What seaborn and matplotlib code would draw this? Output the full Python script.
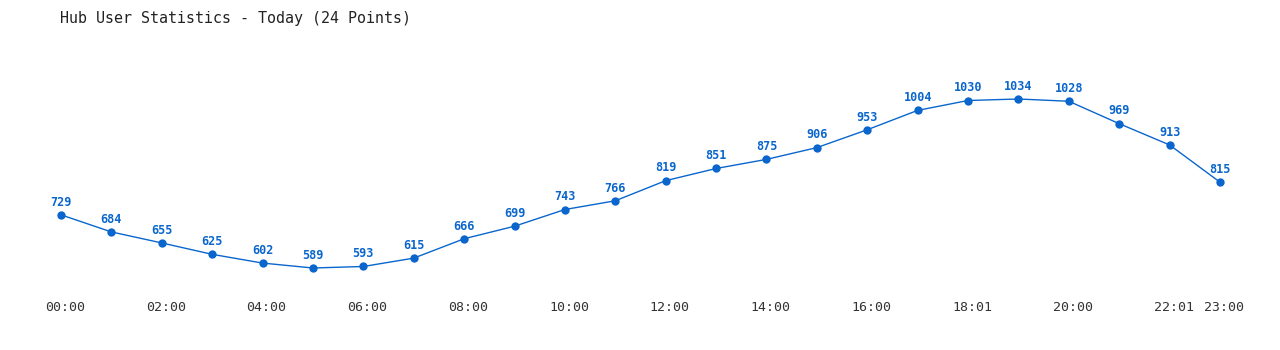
import matplotlib
matplotlib.use("Agg")
import matplotlib.pyplot as plt
import matplotlib.transforms as mtransforms
import seaborn as sns
import pandas as pd

times = ["00:00", "01:00", "02:00", "03:00", "04:00", "05:00", "06:00", "07:00",
         "08:00", "09:00", "10:00", "11:00", "12:00", "13:00", "14:00", "15:00",
         "16:00", "17:00", "18:01", "19:00", "20:00", "21:00", "22:01", "23:00"]
users = [729, 684, 655, 625, 602, 589, 593, 615, 666, 699, 743, 766,
         819, 851, 875, 906, 953, 1004, 1030, 1034, 1028, 969, 913, 815]
tick_idx = [0, 2, 4, 6, 8, 10, 12, 14, 16, 18, 20, 22, 23]
title = "Hub User Statistics - Today (24 Points)"

sns.set_style("white")
plt.rcParams['font.family'] = ['DejaVu Sans Mono', 'DejaVu Sans']

df = pd.DataFrame({"idx": range(len(users)), "time": times, "users": users})

fig = plt.figure(figsize=(12.8, 3.5), dpi=100)
ax = fig.add_axes([40 / 1280, 60 / 350, 1200 / 1280, 250 / 350])
color = "#0a66cc"
sns.lineplot(data=df, x="idx", y="users", ax=ax, color=color, linewidth=1.0,
             marker="o", markersize=6, markeredgewidth=0)

for i, v in zip(df["idx"], df["users"]):
    ax.annotate(str(v), (i, v), xytext=(0, 4.5), textcoords="offset points",
                ha="center", va="bottom", fontsize=8.5, fontweight="bold",
                color=color)

ax.set_xlim(-0.4167, 23.397)
ax.set_ylim(531.1, 1189.3)
ax.set_xticks(tick_idx)
ax.set_xticklabels([times[i] for i in tick_idx], fontsize=9.5, color="#333333")
ax.tick_params(axis="x", length=0, pad=8)
shift = mtransforms.ScaledTranslation(4 / 100, 0, fig.dpi_scale_trans)
for lbl in ax.get_xticklabels():
    lbl.set_transform(lbl.get_transform() + shift)
ax.set_yticks([])
ax.set_xlabel("")
ax.set_ylabel("")
for s in ax.spines.values():
    s.set_visible(False)

fig.text(60 / 1280, 1 - 18 / 350, title, ha="left", va="center",
         fontsize=10.8, color="#222222")

fig.savefig("out.png", dpi=100, facecolor="white")
